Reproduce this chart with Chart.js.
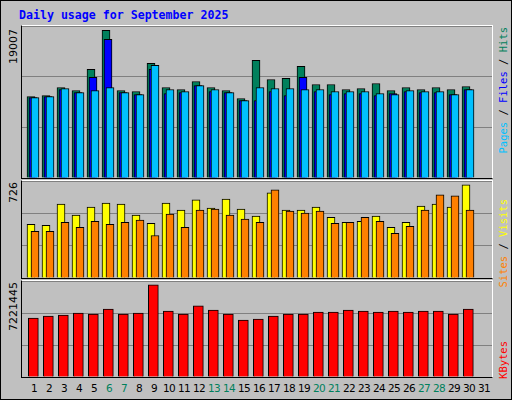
<!DOCTYPE html>
<html>
<head>
<meta charset="utf-8">
<script src="https://cdn.jsdelivr.net/npm/chart.js@4"></script>
<style>
    body { margin: 0; background: #fff; }
    #frame { position: absolute; left: 0; top: 0; width: 510px; height: 398px; border: 1px solid #000; background: #c0c0c0; font-family: "DejaVu Sans", sans-serif; }
    .panel { position: absolute; left: 20px; width: 470px; border-left: 1px solid #000; border-top: 1px solid #fff; border-right: 1px solid #fff; border-bottom: 1px solid #000; }
    .panel canvas { position: absolute; left: 0; top: 0; }
    .vt { position: absolute; writing-mode: vertical-rl; transform: rotate(180deg); white-space: nowrap; }
    .day { position: absolute; top: 381px; width: 20px; text-align: center; font-size: 10.5px; letter-spacing: -0.6px; }
    #title { position: absolute; left: 18px; top: 7px; font: bold 11.6px "DejaVu Sans Mono", monospace; color: #0000ff; }
</style>
</head>
<body>
<div id="frame">
    <div id="title">Daily usage for September 2025</div>
    <div class="panel" style="top:24px;height:152px"><canvas id="c1"></canvas></div>
    <div class="panel" style="top:179px;height:97px"><canvas id="c2"></canvas></div>
    <div class="panel" style="top:279px;height:96px"><canvas id="c3"></canvas></div>
    <div class="vt" style="left:6px;top:28px;font-size:11px">19007</div>
    <div class="vt" style="left:6px;top:181px;font-size:11px">726</div>
    <div class="vt" style="left:6px;top:281px;font-size:11px">7221445</div>
    <div class="vt" style="left:496px;top:26px;font:10.5px 'DejaVu Sans Mono',monospace"><span style="color:#00c0ff">Pages</span> / <span style="color:#0000ff">Files</span> / <span style="color:#00805c">Hits</span></div>
    <div class="vt" style="left:496px;top:198px;font:10.5px 'DejaVu Sans Mono',monospace"><span style="color:#ff8000">Sites</span> / <span style="color:#ffff00">Visits</span></div>
    <div class="vt" style="left:496px;top:340px;font:10.5px 'DejaVu Sans Mono',monospace;color:#ff0000">KBytes</div>
    <div id="days"></div>
</div>
<script>
// data
const days = [1,2,3,4,5,6,7,8,9,10,11,12,13,14,15,16,17,18,19,20,21,22,23,24,25,26,27,28,29,30];
const weekendDays = [6,7,13,14,20,21,27,28];
const hits = [10492,10621,11653,11266,13975,19007,11266,11137,14749,11653,11395,12427,11653,11266,10234,15136,12685,12814,14362,12040,12040,11395,11524,12169,11266,11653,11395,11653,11395,11782];
const files = [10363,10492,11395,11008,12943,17845,11008,10750,13975,10879,11008,11911,11137,11008,9976,9976,11137,10621,12943,11137,10750,10879,10879,10621,10879,11137,11008,11008,10750,11395];
const pages = [10363,10492,11524,11008,11266,11653,11008,10750,14491,11395,11137,11911,11395,11008,9976,11653,11524,11524,11395,11395,11137,11137,11137,10879,10750,11266,11137,11137,10750,11395];
const visits = [418,410,576,489,552,584,576,489,426,584,529,608,544,615,537,481,663,529,529,552,473,434,442,481,394,434,560,576,552,726];
const sites = [363,363,434,394,442,418,434,450,331,497,394,529,537,489,458,434,686,521,505,521,426,434,473,442,347,402,529,647,639,529];
const kbytes = [4612300,4770436,4849504,5007640,4928572,5323912,4928572,5007640,7221445,5165776,4928572,5561116,5244844,4928572,4454164,4533232,4770436,4928572,4928572,5086708,5086708,5244844,5165776,5086708,5165776,5086708,5165776,5165776,4928572,5323912];
const dayLabels = [];
for (let d = 1; d <= 31; d++) dayLabels.push(String(d));

// day labels under the chart
const daysDiv = document.getElementById('days');
dayLabels.forEach((t, i) => {
    const el = document.createElement('div');
    el.className = 'day';
    el.textContent = t;
    el.style.left = (18 + 15 * (i + 1) - 10) + 'px';
    el.style.color = weekendDays.includes(i + 1) ? '#00805c' : '#000';
    daysDiv.appendChild(el);
});

function series(values, shift) {
    return values.map((v, i) => ({ x: days[i] + shift, y: v }));
}

function makeChart(id, w, h, yMax, datasets) {
    const cv = document.getElementById(id);
    cv.width = w; cv.height = h;
    cv.style.width = w + 'px'; cv.style.height = h + 'px';
    new Chart(cv, {
        type: 'bar',
        data: { datasets: datasets },
        options: {
            responsive: false,
            animation: false,
            layout: { padding: 0 },
            plugins: { legend: { display: false }, tooltip: { enabled: false } },
            scales: {
                x: { type: 'linear', offset: false, min: 0.1333, max: 31.4667, display: false },
                y: {
                    min: 0, max: yMax,
                    ticks: { display: false, stepSize: yMax / 3 },
                    grid: { color: '#808080', drawTicks: false, lineWidth: 1 },
                    border: { display: false }
                }
            }
        }
    });
}

function ds(values, shift, color, thickness) {
    return {
        data: series(values, shift),
        backgroundColor: color,
        borderColor: '#000',
        borderWidth: 1,
        borderSkipped: 'bottom',
        barThickness: thickness,
        grouped: false
    };
}

makeChart('c1', 470, 152, 19566, [
    ds(pages, 0, '#00c0ff', 8),
    ds(files, -0.1333, '#0000ff', 8),
    ds(hits, -0.2667, '#00805c', 8)
]);
makeChart('c2', 470, 97, 755, [
    ds(sites, 0, '#ff8000', 8),
    ds(visits, -0.2667, '#ffff00', 8)
]);
makeChart('c3', 470, 96, 7511360, [
    ds(kbytes, -0.11, '#ff0000', 10)
]);
</script>
</body>
</html>
